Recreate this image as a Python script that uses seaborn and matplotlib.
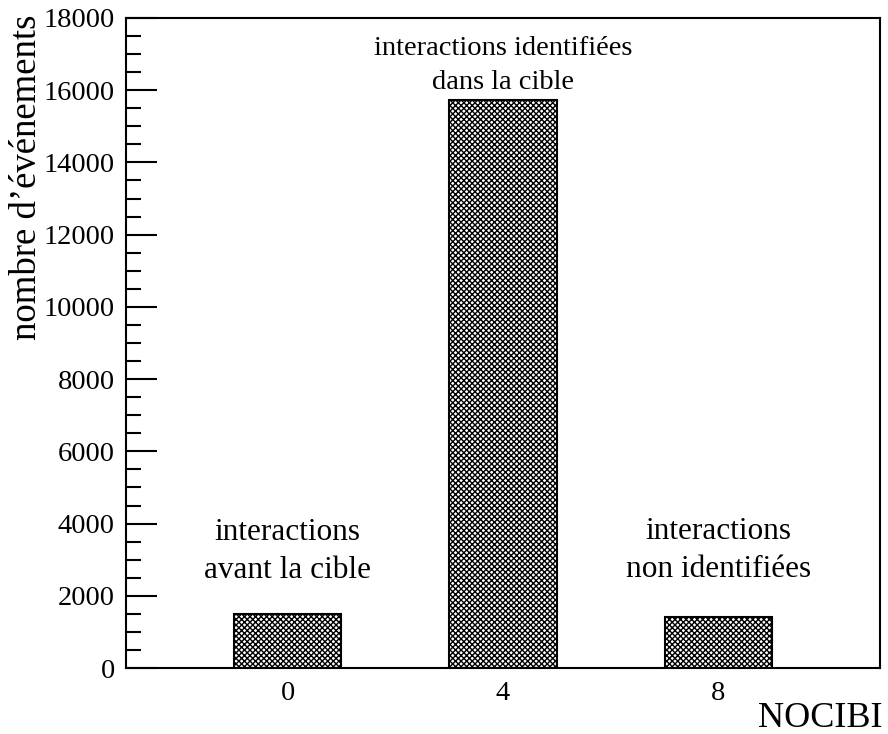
import matplotlib
matplotlib.use("Agg")
import matplotlib.pyplot as plt
import seaborn as sns
import pandas as pd
from matplotlib.ticker import MultipleLocator

# NOCIBI bins and event counts
nocibi = [0, 4, 8]
counts = [1495, 15720, 1410]
notes = ["interactions\navant la cible",
         "interactions identifiées\ndans la cible",
         "interactions\nnon identifiées"]
note_y = [3230, 16680, 3260]
note_size = [22.5, 20.5, 22.5]
note_spacing = [1.4, 1.5, 1.4]

sns.set_theme(style="white")
plt.rcParams["font.family"] = ["Liberation Serif", "DejaVu Serif"]
plt.rcParams["text.color"] = "black"
plt.rcParams["axes.labelcolor"] = "black"
plt.rcParams["xtick.color"] = "black"
plt.rcParams["ytick.color"] = "black"
plt.rcParams["hatch.linewidth"] = 1.0
plt.rcParams["hatch.color"] = "black"

df = pd.DataFrame({"NOCIBI": nocibi, "n": counts})

fig = plt.figure(figsize=(8.88, 7.34), dpi=100)
ax = fig.add_axes([0.1419, 0.0899, 0.991 - 0.1419, 0.9755 - 0.0899])

sns.barplot(data=df, x="NOCIBI", y="n", native_scale=True, width=0.5,
            color="white", edgecolor="black", linewidth=1.5,
            hatch="xxxxxx", ax=ax)

for x, y, t, fs, ls in zip(nocibi, note_y, notes, note_size, note_spacing):
    ax.text(x, y, t, ha="center", va="center", fontsize=fs,
            multialignment="center", linespacing=ls, color="black")

ax.set_xlim(-3, 11)
ax.set_ylim(0, 18000)
ax.set_xticks(nocibi)
ax.set_xticklabels([str(v) for v in nocibi])
ax.yaxis.set_major_locator(MultipleLocator(2000))
ax.yaxis.set_minor_locator(MultipleLocator(500))
ax.tick_params(axis="y", which="major", direction="in", length=22, width=1.5,
               labelsize=20.5, pad=8, left=True, colors="black")
ax.tick_params(axis="y", which="minor", direction="in", length=11, width=1.5,
               left=True, colors="black")
ax.tick_params(axis="x", length=0, labelsize=20.5, pad=9, colors="black")

for s in ax.spines.values():
    s.set_visible(True)
    s.set_color("black")
    s.set_linewidth(1.5)

ax.set_xlabel("")
ax.set_ylabel("")
fig.text(882 / 888, 1 - 727 / 734, "NOCIBI", ha="right", va="baseline",
         fontsize=26, color="black")
fig.text(27 / 888, 1 - 177 / 734, "nombre d’événements", ha="center",
         va="center", rotation=90, fontsize=26.5, color="black")

fig.savefig("out.png", dpi=100, facecolor="white")
